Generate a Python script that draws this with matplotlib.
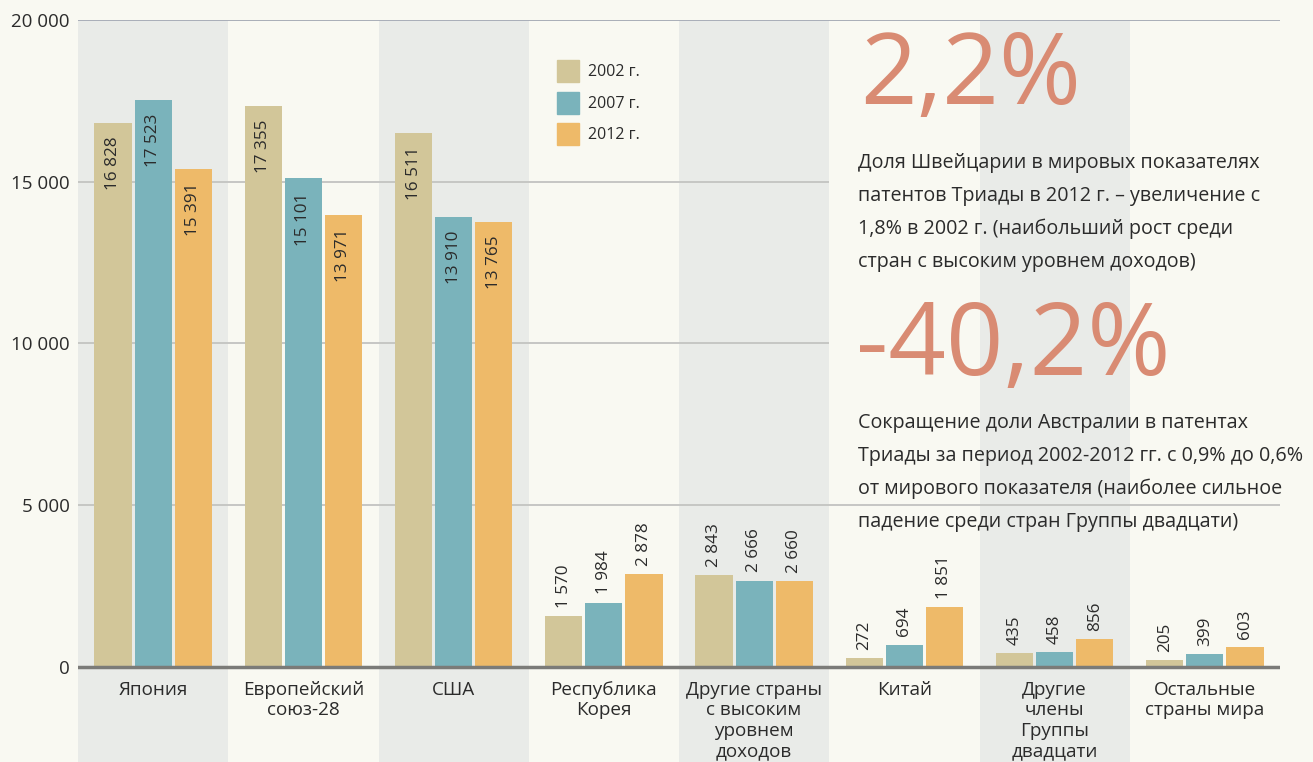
import numpy as np
import matplotlib.pyplot as plt
from matplotlib.patches import Rectangle

plt.rcParams['font.family'] = ['Open Sans', 'DejaVu Sans']

categories = ['Япония', 'Европейский\nсоюз-28', 'США', 'Республика\nКорея',
              'Другие страны\nс высоким\nуровнем\nдоходов', 'Китай',
              'Другие\nчлены\nГруппы\nдвадцати', 'Остальные\nстраны мира']
years = ['2002 г.', '2007 г.', '2012 г.']
v2002 = [16828, 17355, 16511, 1570, 2843, 272, 435, 205]
v2007 = [17523, 15101, 13910, 1984, 2666, 694, 458, 399]
v2012 = [15391, 13971, 13765, 2878, 2660, 1851, 856, 603]
yticks = [0, 5000, 10000, 15000, 20000]

note1 = ['Доля Швейцарии в мировых показателях',
         'патентов Триады в 2012 г. – увеличение с',
         '1,8% в 2002 г. (наибольший рост среди',
         'стран с высоким уровнем доходов)']
note2 = ['Сокращение доли Австралии в патентах',
         'Триады за период 2002-2012 гг. с 0,9% до 0,6%',
         'от мирового показателя (наиболее сильное',
         'падение среди стран Группы двадцати)']

colors = ['#d2c699', '#7ab3bb', '#eeba69']
bg = '#f9f9f2'
band = '#e9ebe8'
txt = '#2b2b2b'
accent = '#d98b73'

W, H = 1313, 762
fig = plt.figure(figsize=(W / 100, H / 100), dpi=100, facecolor=bg)

def px(x, y):
    return x / W, 1 - y / H

# axes spans from the 20 000 line to the bottom of the picture
ax = fig.add_axes([78 / W, 0, (1280 - 78) / W, (H - 20) / H])
ax.set_facecolor(bg)
ax.set_xlim(-0.5, 7.5)
ax.set_ylim(-2937, 20000)
for s in ax.spines.values():
    s.set_visible(False)

for i in range(0, 8, 2):
    ax.axvspan(i - 0.5, i + 0.5, color=band, zorder=0, lw=0)

ax.axhline(20000, color='#a9aeb8', lw=1.4, zorder=1)
ax.axhline(5000, color='#c6c6c4', lw=1.4, zorder=1)
ax.hlines([10000, 15000], -0.5, 4.5, color='#c6c6c4', lw=1.4, zorder=1)

x = np.arange(len(categories))
offs = [-0.267, 0, 0.267]
for vals, off, c in zip([v2002, v2007, v2012], offs, colors):
    ax.bar(x + off, vals, width=0.247, color=c, zorder=2, lw=0)
    for xi, v in zip(x, vals):
        lab = f'{v:,}'.replace(',', ' ')
        if v > 10000:
            ax.annotate(lab, (xi + off, v), xytext=(0, -10), textcoords='offset points',
                        rotation=90, ha='center', va='top', fontsize=12.3, color=txt, zorder=3)
        else:
            ax.annotate(lab, (xi + off, v), xytext=(0, 6), textcoords='offset points',
                        rotation=90, ha='center', va='bottom', fontsize=12.3, color=txt, zorder=3)

ax.axhline(0, color='#7b7b78', lw=2.5, zorder=4)

for xi, cat in zip(x, categories):
    ax.annotate(cat, (xi, 0), xytext=(0, -10), textcoords='offset points',
                ha='center', va='top', fontsize=13.6, color=txt, linespacing=1.18)

ax.set_xticks([])
ax.set_yticks(yticks)
ax.set_yticklabels([f'{t:,}'.replace(',', ' ') for t in yticks], fontsize=13.5, color=txt)
ax.tick_params(axis='y', length=0, pad=6)

# legend
for k, (yr, c) in enumerate(zip(years, colors)):
    top = 60 + k * 31.5
    fig.add_artist(Rectangle(px(557, top + 22), 22 / W, 22 / H, color=c, transform=fig.transFigure))
    fig.text(*px(588, top + 12), yr, fontsize=11.5, color=txt, va='center', ha='left')

# text panel
fig.text(*px(860, 104), '2,2%', fontsize=71.5, color=accent, va='baseline', ha='left')
for k, line in enumerate(note1):
    fig.text(*px(858, 168 + 33 * k), line, fontsize=14.2, color=txt, va='baseline', ha='left')
fig.text(*px(856, 375), '-40,2%', fontsize=72.5, color=accent, va='baseline', ha='left')
for k, line in enumerate(note2):
    fig.text(*px(858, 428 + 33 * k), line, fontsize=14.2, color=txt, va='baseline', ha='left')

fig.savefig('out.png', dpi=100, facecolor=bg)
